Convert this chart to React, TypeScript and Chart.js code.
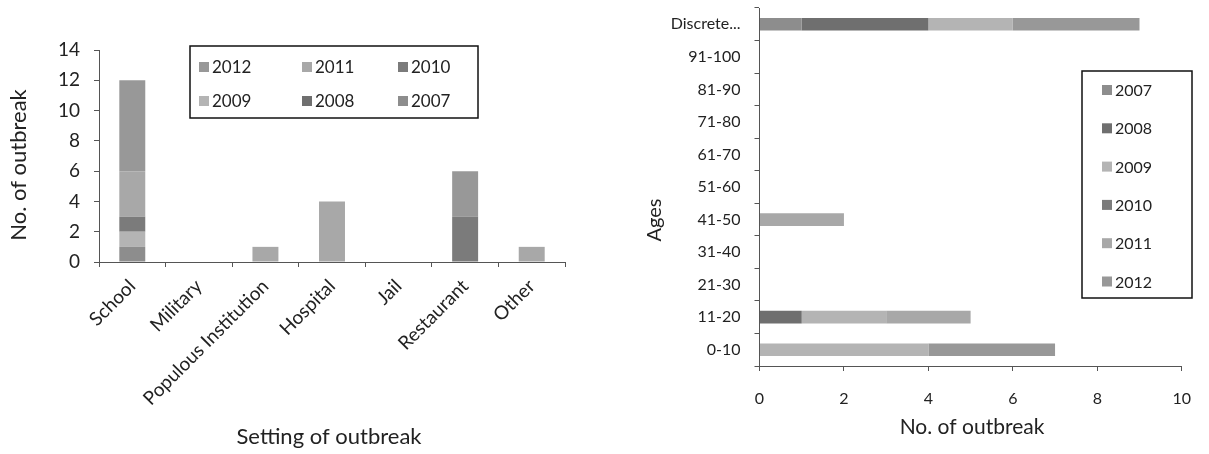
import React, { useEffect, useRef } from 'react';
import { Chart, registerables } from 'chart.js';

Chart.register(...registerables);

// ---------- shared ----------
const YEARS = ['2007', '2008', '2009', '2010', '2011', '2012'];
const YEAR_COLORS = ['#8d8d8d', '#6f6f6f', '#b4b4b4', '#7b7b7b', '#a8a8a8', '#989898'];
const FONT = 'Lato, "Open Sans", sans-serif';
const TEXT = '#222222';
const AXIS = '#555555';

// ---------- left chart: setting of outbreak ----------
const SETTINGS = ['School', 'Military', 'Populous Institution', 'Hospital', 'Jail', 'Restaurant', 'Other'];
const SETTING_2007 = [1, 0, 0, 0, 0, 0, 0];
const SETTING_2008 = [0, 0, 0, 0, 0, 0, 0];
const SETTING_2009 = [1, 0, 0, 0, 0, 0, 0];
const SETTING_2010 = [1, 0, 0, 0, 0, 3, 0];
const SETTING_2011 = [3, 0, 1, 4, 0, 0, 1];
const SETTING_2012 = [6, 0, 0, 0, 0, 3, 0];
const SETTING_MAX = 14;
const SETTING_STEP = 2;
const SETTING_LEGEND_ORDER = ['2012', '2011', '2010', '2009', '2008', '2007'];

// ---------- right chart: ages ----------
const AGES = ['0-10', '11-20', '21-30', '31-40', '41-50', '51-60', '61-70', '71-80', '81-90', '91-100', 'Discrete...'];
const AGE_2007 = [0, 0, 0, 0, 0, 0, 0, 0, 0, 0, 1];
const AGE_2008 = [0, 1, 0, 0, 0, 0, 0, 0, 0, 0, 3];
const AGE_2009 = [4, 2, 0, 0, 0, 0, 0, 0, 0, 0, 2];
const AGE_2010 = [0, 0, 0, 0, 0, 0, 0, 0, 0, 0, 0];
const AGE_2011 = [0, 2, 0, 0, 2, 0, 0, 0, 0, 0, 0];
const AGE_2012 = [3, 0, 0, 0, 0, 0, 0, 0, 0, 0, 3];
const AGE_MAX = 10;
const AGE_STEP = 2;
const AGE_LEGEND_ORDER = ['2007', '2008', '2009', '2010', '2011', '2012'];

// ---------- plugins ----------
const boxLegend = {
  id: 'boxLegend',
  afterDraw(chart: any, _args: any, opts: any) {
    const { ctx } = chart;
    const { box, items, size } = opts;
    ctx.save();
    ctx.fillStyle = '#ffffff';
    ctx.fillRect(box.x, box.y, box.w, box.h);
    ctx.strokeStyle = '#111111';
    ctx.lineWidth = 1.5;
    ctx.strokeRect(box.x, box.y, box.w, box.h);
    ctx.font = `${size}px ${FONT}`;
    ctx.textBaseline = 'middle';
    ctx.textAlign = 'left';
    items.forEach((it: any) => {
      const ds = chart.data.datasets.find((d: any) => d.label === it.label);
      ctx.fillStyle = ds ? ds.backgroundColor : '#999';
      ctx.fillRect(it.x, it.y - 5, 10, 10);
      ctx.fillStyle = TEXT;
      ctx.fillText(it.label, it.x + 13, it.y + 1);
    });
    ctx.restore();
  },
};

const axisTitles = {
  id: 'axisTitles',
  afterDraw(chart: any, _args: any, opts: any) {
    const { ctx } = chart;
    ctx.save();
    ctx.fillStyle = TEXT;
    ctx.textAlign = 'center';
    ctx.textBaseline = 'middle';
    (opts.titles || []).forEach((t: any) => {
      ctx.save();
      ctx.font = `${t.size}px ${FONT}`;
      ctx.translate(t.x, t.y);
      if (t.rotate) ctx.rotate(t.rotate);
      ctx.fillText(t.text, 0, 0);
      ctx.restore();
    });
    ctx.restore();
  },
};

function makeDatasets(series: number[][], labels: string[]) {
  return labels.map((label, i) => ({
    label,
    data: series[i],
    backgroundColor: YEAR_COLORS[i],
    borderWidth: 0,
    categoryPercentage: 1,
    barPercentage: 0.39,
  }));
}

function SettingChart() {
  const ref = useRef<HTMLCanvasElement>(null);
  useEffect(() => {
    const tickFont = { family: FONT, size: 19 };
    const chart = new Chart(ref.current!, {
      type: 'bar',
      data: {
        labels: SETTINGS,
        datasets: makeDatasets(
          [SETTING_2007, SETTING_2008, SETTING_2009, SETTING_2010, SETTING_2011, SETTING_2012],
          YEARS
        ),
      },
      plugins: [boxLegend, axisTitles],
      options: {
        responsive: false,
        animation: false,
        devicePixelRatio: 1,
        layout: { padding: { left: 0, top: 50, right: 35, bottom: 0 } },
        plugins: {
          legend: { display: false },
          tooltip: { enabled: false },
          boxLegend: {
            size: 17,
            box: { x: 190, y: 46, w: 288, h: 72 },
            items: SETTING_LEGEND_ORDER.map((label, i) => ({
              label,
              x: [199, 302, 398][i % 3],
              y: i < 3 ? 67 : 101,
            })),
          },
          axisTitles: {
            titles: [
              { text: 'No. of outbreak', x: 19, y: 165, rotate: -Math.PI / 2, size: 22 },
              { text: 'Setting of outbreak', x: 329, y: 437, size: 22 },
            ],
          },
        } as any,
        scales: {
          x: {
            stacked: true,
            grid: { drawOnChartArea: false, drawTicks: true, tickLength: 5, tickColor: AXIS },
            border: { color: AXIS, width: 1 },
            ticks: {
              font: tickFont,
              color: TEXT,
              autoSkip: false,
              minRotation: 45,
              maxRotation: 45,
              padding: 8,
            },
            afterFit: (s: any) => {
              s.height = 192;
            },
          },
          y: {
            stacked: true,
            min: 0,
            max: SETTING_MAX,
            ticks: { stepSize: SETTING_STEP, font: tickFont, color: TEXT, padding: 14 },
            grid: { drawOnChartArea: false, drawTicks: true, tickLength: 5, tickColor: AXIS },
            border: { color: AXIS, width: 1 },
            afterFit: (s: any) => {
              s.width = 99;
            },
          },
        },
      },
    });
    return () => chart.destroy();
  }, []);
  return <canvas ref={ref} width={600} height={454} style={{ display: 'block' }} />;
}

function AgeChart() {
  const ref = useRef<HTMLCanvasElement>(null);
  useEffect(() => {
    const tickFont = { family: FONT, size: 16 };
    const chart = new Chart(ref.current!, {
      type: 'bar',
      data: {
        labels: AGES,
        datasets: makeDatasets([AGE_2007, AGE_2008, AGE_2009, AGE_2010, AGE_2011, AGE_2012], YEARS),
      },
      plugins: [boxLegend, axisTitles],
      options: {
        indexAxis: 'y',
        responsive: false,
        animation: false,
        devicePixelRatio: 1,
        layout: { padding: { left: 0, top: 8, right: 23, bottom: 0 } },
        plugins: {
          legend: { display: false },
          tooltip: { enabled: false },
          boxLegend: {
            size: 16,
            box: { x: 482, y: 71, w: 110, h: 227 },
            items: AGE_LEGEND_ORDER.map((label, i) => ({
              label,
              x: 502,
              y: 90 + i * 38.3,
            })),
          },
          axisTitles: {
            titles: [
              { text: 'Ages', x: 55, y: 220, rotate: -Math.PI / 2, size: 20 },
              { text: 'No. of outbreak', x: 372, y: 427, size: 21 },
            ],
          },
        } as any,
        scales: {
          x: {
            stacked: true,
            min: 0,
            max: AGE_MAX,
            ticks: { stepSize: AGE_STEP, font: tickFont, color: TEXT, padding: 18 },
            grid: { drawOnChartArea: false, drawTicks: true, tickLength: 5, tickColor: AXIS },
            border: { color: AXIS, width: 1 },
            afterFit: (s: any) => {
              s.height = 88;
            },
          },
          y: {
            stacked: true,
            reverse: true,
            ticks: { font: tickFont, color: TEXT, padding: 14, autoSkip: false },
            grid: { drawOnChartArea: false, drawTicks: true, tickLength: 5, tickColor: AXIS },
            border: { color: AXIS, width: 1 },
            afterFit: (s: any) => {
              s.width = 159.5;
              s.paddingTop = 0;
              s.paddingBottom = 0;
            },
          },
        },
      },
    });
    return () => chart.destroy();
  }, []);
  return <canvas ref={ref} width={609} height={454} style={{ display: 'block' }} />;
}

export default function App() {
  return (
    <div style={{ position: 'absolute', left: 0, top: 0, width: 1209, height: 454, background: '#fff' }}>
      <div style={{ position: 'absolute', left: 0, top: 0 }}>
        <SettingChart />
      </div>
      <div style={{ position: 'absolute', left: 600, top: 0 }}>
        <AgeChart />
      </div>
    </div>
  );
}
